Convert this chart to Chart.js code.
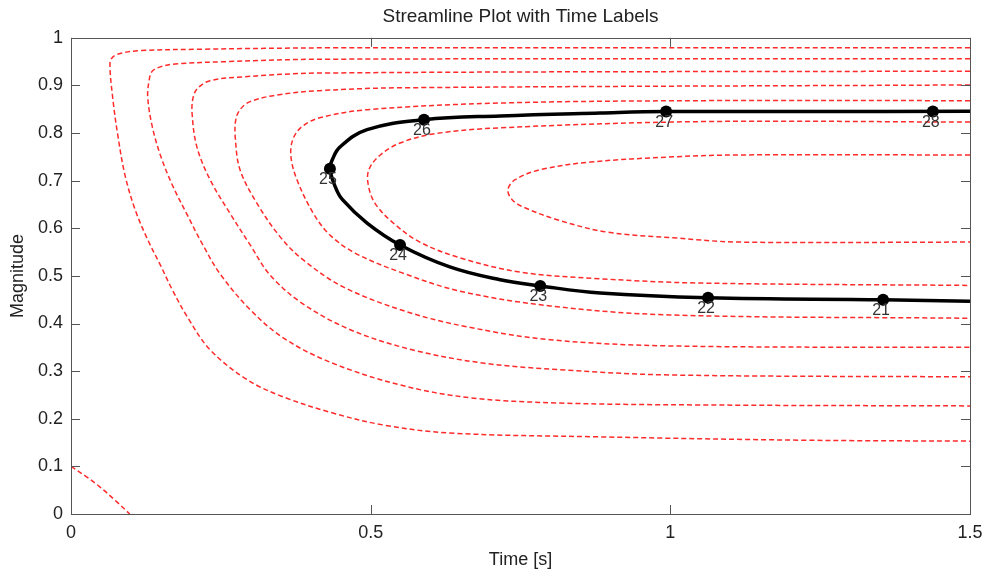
<!DOCTYPE html>
<html><head><meta charset="utf-8">
<script src="https://cdn.jsdelivr.net/npm/chart.js@4/dist/chart.umd.min.js"></script>
<style>html,body{margin:0;padding:0;background:#fff}#wrap{width:986px;height:576px}</style>
</head><body><div id="wrap"><canvas id="c" width="986" height="576"></canvas></div>
<script>
// ---- tick values / labels ----
const xTickValues = [0, 0.5, 1, 1.5];
const xTickLabels = ['0', '0.5', '1', '1.5'];
const yTickValues = [0, 0.1, 0.2, 0.3, 0.4, 0.5, 0.6, 0.7, 0.8, 0.9, 1];
const yTickLabels = ['0', '0.1', '0.2', '0.3', '0.4', '0.5', '0.6', '0.7', '0.8', '0.9', '1'];

// ---- red dashed streamlines ----
const curveA_x = [1.5,0.716,0.432,0.215,0.115,0.085,0.070,0.065,0.070,0.078,0.090,0.107,0.128,0.149,0.169,0.194,0.232,0.294,0.354,0.437,0.521,0.632,0.883,1.216,1.5];
const curveA_y = [0.979,0.979,0.979,0.976,0.973,0.968,0.960,0.945,0.870,0.796,0.712,0.639,0.576,0.523,0.471,0.414,0.345,0.282,0.246,0.212,0.187,0.170,0.162,0.155,0.153];

const curveB_x = [1.5,0.415,0.260,0.174,0.149,0.135,0.130,0.128,0.135,0.149,0.169,0.194,0.220,0.250,0.299,0.354,0.432,0.549,0.667,0.816,1.050,1.5];
const curveB_y = [0.956,0.955,0.950,0.945,0.939,0.929,0.908,0.876,0.817,0.754,0.691,0.628,0.565,0.502,0.429,0.370,0.319,0.271,0.244,0.233,0.229,0.227];

const curveC_x = [1.5,0.415,0.287,0.232,0.212,0.204,0.202,0.210,0.232,0.265,0.299,0.332,0.385,0.466,0.569,0.687,0.816,0.999,1.5];
const curveC_y = [0.930,0.926,0.918,0.910,0.895,0.876,0.842,0.771,0.702,0.632,0.565,0.502,0.443,0.387,0.345,0.317,0.303,0.292,0.288];

const curveD_x = [1.5,0.549,0.415,0.344,0.299,0.282,0.275,0.274,0.282,0.310,0.349,0.387,0.454,0.557,0.661,0.799,0.999,1.5];
const curveD_y = [0.901,0.895,0.889,0.880,0.866,0.849,0.828,0.792,0.723,0.653,0.582,0.534,0.477,0.426,0.393,0.366,0.353,0.350];

const curveE_x = [1.5,1.050,0.716,0.494,0.415,0.385,0.370,0.367,0.377,0.404,0.432,0.474,0.549,0.649,0.799,0.999,1.5];
const curveE_y = [0.868,0.868,0.863,0.849,0.832,0.813,0.786,0.750,0.702,0.632,0.586,0.548,0.508,0.468,0.437,0.418,0.411];

const curveF_x = [1.5,1.050,0.716,0.604,0.549,0.516,0.497,0.496,0.507,0.536,0.582,0.649,0.749,0.883,1.050,1.5];
const curveF_y = [0.823,0.824,0.811,0.798,0.779,0.754,0.723,0.691,0.653,0.613,0.571,0.538,0.508,0.494,0.485,0.480];

const curveG_x = [1.5,1.116,1.005,0.866,0.783,0.741,0.729,0.736,0.754,0.811,0.894,1.005,1.116,1.5];
const curveG_y = [0.754,0.754,0.750,0.739,0.723,0.702,0.681,0.660,0.645,0.618,0.592,0.580,0.571,0.571];

const cornerCurve_x = [0,0.026,0.048,0.076,0.098];
const cornerCurve_y = [0.1,0.078,0.057,0.026,0];

// ---- black trajectory ----
const traj_x = [1.5,1.355,1.063,0.883,0.783,0.716,0.632,0.549,0.494,0.453,0.441,0.432,0.436,0.449,0.494,0.589,0.716,0.883,0.993,1.216,1.5];
const traj_y = [0.447,0.450,0.454,0.464,0.479,0.492,0.519,0.565,0.611,0.660,0.687,0.725,0.744,0.771,0.807,0.828,0.836,0.842,0.845,0.845,0.846];

// ---- time markers ----
const marker_x = [1.355,1.063,0.783,0.549,0.432,0.589,0.993,1.438];
const marker_y = [0.450,0.454,0.479,0.565,0.725,0.828,0.845,0.845];
const marker_labels = ['21','22','23','24','25','26','27','28'];

const FONT = '"Liberation Sans", Arial, Helvetica, sans-serif';
const toPts = (xs, ys) => xs.map((x, i) => ({x: x, y: ys[i]}));

const redCurves = [
  [curveA_x, curveA_y], [curveB_x, curveB_y], [curveC_x, curveC_y], [curveD_x, curveD_y],
  [curveE_x, curveE_y], [curveF_x, curveF_y], [curveG_x, curveG_y], [cornerCurve_x, cornerCurve_y]
];

const datasets = redCurves.map(c => ({
  data: toPts(c[0], c[1]),
  showLine: true, borderColor: 'rgba(255,20,20,0.9)', borderWidth: 1.5,
  borderDash: [5, 3], pointRadius: 0, tension: 0.35, fill: false
}));
datasets.push({
  data: toPts(traj_x, traj_y),
  showLine: true, borderColor: '#000', borderWidth: 3.5,
  pointRadius: 0, tension: 0.4, fill: false
});
datasets.push({
  data: toPts(marker_x, marker_y),
  showLine: false, pointRadius: 6, pointBackgroundColor: '#000', pointBorderColor: '#000',
  pointBorderWidth: 0
});
const markerIndex = datasets.length - 1;

const boxPlugin = {
  id: 'box',
  afterDatasetsDraw(chart) {
    const {ctx, chartArea: a, scales: {x, y}} = chart;
    ctx.save();
    ctx.strokeStyle = '#555';
    ctx.lineWidth = 1;
    ctx.strokeRect(Math.round(a.left) + 0.5, Math.round(a.top) + 0.5, Math.round(a.right - a.left), Math.round(a.bottom - a.top));
    const L = 9;
    ctx.beginPath();
    xTickValues.forEach(v => {
      const p = Math.round(x.getPixelForValue(v)) + 0.5;
      ctx.moveTo(p, a.bottom); ctx.lineTo(p, a.bottom - L);
      ctx.moveTo(p, a.top); ctx.lineTo(p, a.top + L);
    });
    yTickValues.forEach(v => {
      const p = Math.round(y.getPixelForValue(v)) + 0.5;
      ctx.moveTo(a.left, p); ctx.lineTo(a.left + L, p);
      ctx.moveTo(a.right, p); ctx.lineTo(a.right - L, p);
    });
    ctx.stroke();
    // time labels
    const meta = chart.getDatasetMeta(markerIndex);
    ctx.fillStyle = '#333';
    ctx.font = '16px ' + FONT;
    ctx.textAlign = 'center';
    ctx.textBaseline = 'middle';
    meta.data.forEach((pt, i) => {
      ctx.fillText(marker_labels[i], pt.x - 2, pt.y + 11);
    });
    ctx.restore();
  }
};

new Chart(document.getElementById('c'), {
  type: 'scatter',
  data: {datasets},
  options: {
    responsive: false, animation: false, devicePixelRatio: 1,
    layout: {padding: {left: 0, right: 16, top: 0, bottom: 0}},
    plugins: {
      legend: {display: false}, tooltip: {enabled: false},
      title: {display: true, fullSize: false, text: 'Streamline Plot with Time Labels', color: '#222',
        font: {family: FONT, size: 19, weight: 'normal'}, padding: {top: 5, bottom: 10}}
    },
    scales: {
      x: {
        type: 'linear', min: 0, max: 1.5,
        afterBuildTicks: s => { s.ticks = xTickValues.map(v => ({value: v})); },
        afterFit: s => { s.height = 62; s.paddingLeft = 0; s.paddingRight = 0; },
        ticks: {callback: (v, i) => xTickLabels[i], color: '#222', padding: 8, maxRotation: 0, autoSkip: false,
          font: {family: FONT, size: 18}},
        grid: {display: false, drawTicks: false}, border: {display: false},
        title: {display: true, text: 'Time [s]', color: '#222', font: {family: FONT, size: 18}, padding: {top: 0, bottom: 5}}
      },
      y: {
        type: 'linear', min: 0, max: 1,
        afterBuildTicks: s => { s.ticks = yTickValues.map(v => ({value: v})); },
        afterFit: s => { s.width = 71; s.paddingTop = 0; s.paddingBottom = 0; },
        ticks: {callback: (v, i) => yTickLabels[i], color: '#222', padding: 8, autoSkip: false,
          font: {family: FONT, size: 18}},
        grid: {display: false, drawTicks: false}, border: {display: false},
        title: {display: true, text: 'Magnitude', color: '#222', font: {family: FONT, size: 18}, padding: {top: 7, bottom: 0}}
      }
    }
  },
  plugins: [boxPlugin]
});
</script>
</body></html>
